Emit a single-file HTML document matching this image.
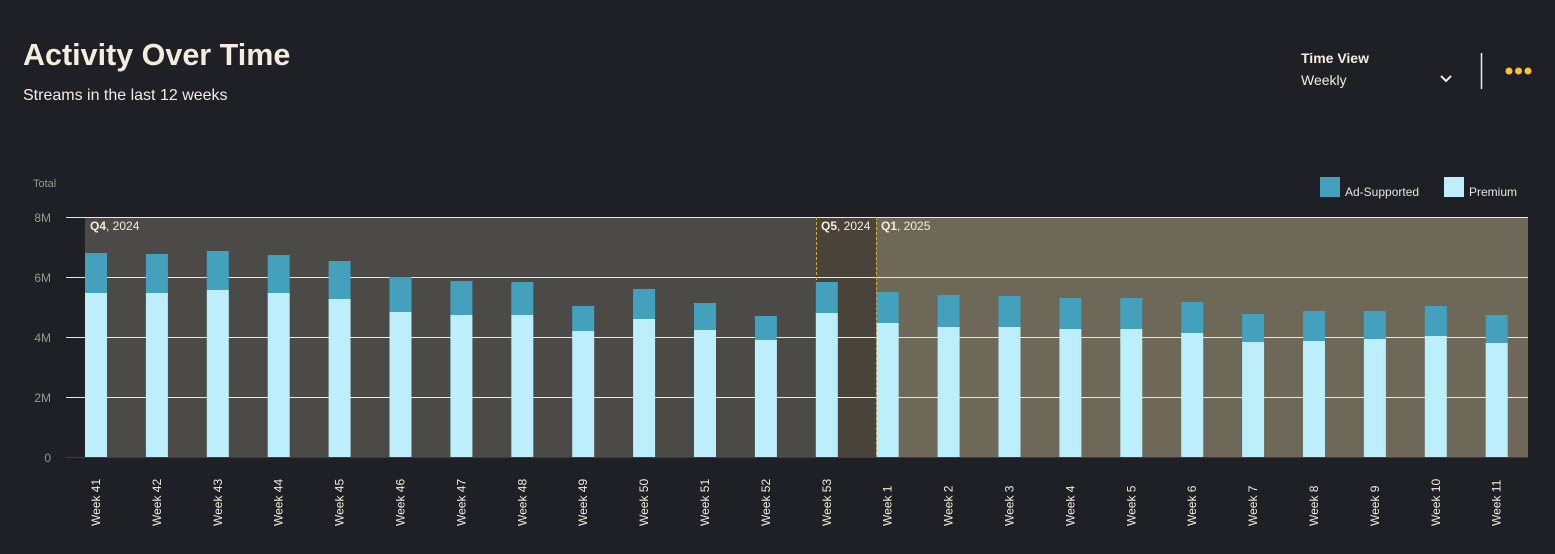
<!DOCTYPE html>
<html><head><meta charset="utf-8"><style>
body{margin:0;background:#1f2026;width:1555px;height:549px;overflow:hidden;font-family:"Liberation Sans",sans-serif}
</style></head><body>
<svg width="1555" height="549" xmlns="http://www.w3.org/2000/svg" font-family="Liberation Sans, sans-serif">
<rect width="1555" height="549" fill="#1f2026"/>
<text x="23" y="65" font-size="30.5" font-weight="bold" fill="#f4ecdc">Activity Over Time</text>
<text x="23" y="100" font-size="16" fill="#f4ecdc">Streams in the last 12 weeks</text>
<text x="1301" y="63" font-size="14" font-weight="bold" fill="#f4ecdc">Time View</text>
<text x="1301" y="85" font-size="14" fill="#f4ecdc">Weekly</text>
<polyline points="1441,76 1446,81 1451,76" fill="none" stroke="#f4ecdc" stroke-width="2"/>
<line x1="1481.5" y1="53" x2="1481.5" y2="89" stroke="#f4ecdc" stroke-width="1.5"/>
<circle cx="1509" cy="71" r="3.5" fill="#f6c33e"/><circle cx="1518.5" cy="71" r="3.5" fill="#f6c33e"/><circle cx="1528" cy="71" r="3.5" fill="#f6c33e"/>
<text x="33" y="187" font-size="11" fill="#9a9894">Total</text>
<rect x="1320" y="177" width="20" height="20" fill="#43a1bd"/>
<text x="1345" y="196" font-size="12" fill="#e8e4dc">Ad-Supported</text>
<rect x="1444" y="177" width="20" height="20" fill="#bdeefb"/>
<text x="1469" y="196" font-size="12" fill="#e8e4dc">Premium</text>
<rect x="85" y="217" width="731" height="240" fill="#4c4a47"/>
<rect x="816" y="217" width="60" height="240" fill="#48443a"/>
<rect x="876" y="217" width="652" height="240" fill="#6e6858"/>
<g font-size="12" fill="#9a9894" text-anchor="end">
<text x="51" y="222">8M</text><text x="51" y="282">6M</text><text x="51" y="342">4M</text><text x="51" y="402">2M</text><text x="51" y="462">0</text>
</g>
<g stroke="#e8e8e8" stroke-width="1">
<line x1="66" y1="217.5" x2="1528" y2="217.5"/><line x1="66" y1="277.5" x2="1528" y2="277.5"/><line x1="66" y1="337.5" x2="1528" y2="337.5"/><line x1="66" y1="397.5" x2="1528" y2="397.5"/>
</g>
<line x1="66" y1="457.5" x2="1528" y2="457.5" stroke="#3e3e3e"/>
<line x1="816.5" y1="217" x2="816.5" y2="457" stroke="#d8a93a" stroke-dasharray="3,2"/>
<line x1="876.5" y1="217" x2="876.5" y2="457" stroke="#d8a93a" stroke-dasharray="3,2"/>
<g font-size="12" fill="#f4ecdc">
<text x="90" y="230"><tspan font-weight="bold">Q4</tspan>, 2024</text>
<text x="821" y="230"><tspan font-weight="bold">Q5</tspan>, 2024</text>
<text x="881" y="230"><tspan font-weight="bold">Q1</tspan>, 2025</text>
</g>
<g id="bars"></g>
</svg>
<script>
var d=[[41,253,293],[42,254,293],[43,251,290],[44,255,293],[45,261,299],[46,277,312],[47,281,315],[48,282,315],[49,306,331],[50,289,319],[51,303,330],[52,316,340],[53,282,313],[1,292,323],[2,295,327],[3,296,327],[4,298,329],[5,298,329],[6,302,333],[7,314,342],[8,311,341],[9,311,339],[10,306,336],[11,315,343]];
var s='';
d.forEach(function(r,i){var c=96+60.9*i,l=c-11;
s+='<rect x="'+l+'" y="'+r[1]+'" width="22" height="'+(r[2]-r[1])+'" fill="#43a1bd"/>';
s+='<rect x="'+l+'" y="'+r[2]+'" width="22" height="'+(457-r[2])+'" fill="#bdeefb"/>';
s+='<text transform="translate('+(c+4)+',526) rotate(-90)" font-size="12" fill="#f4ecdc">Week '+r[0]+'</text>';});
document.getElementById('bars').innerHTML=s;
</script>
</body></html>
